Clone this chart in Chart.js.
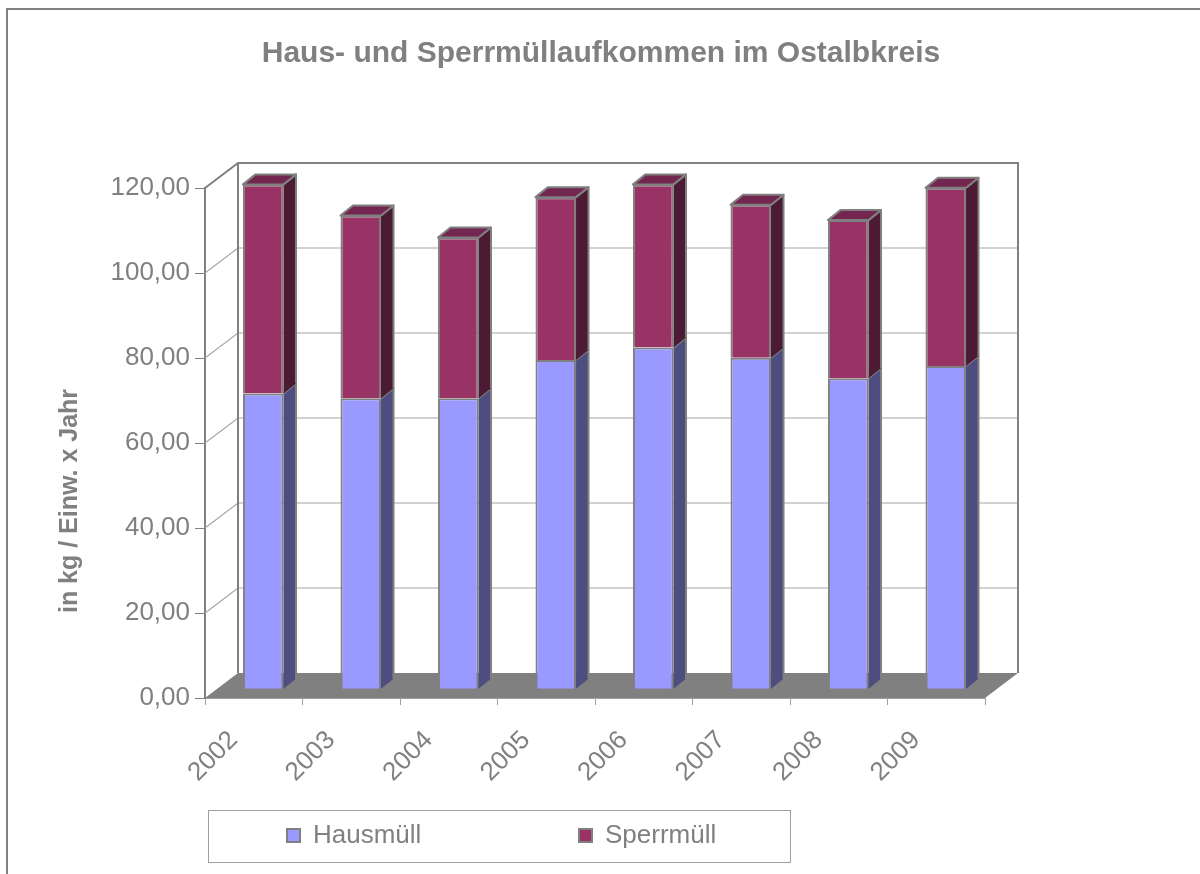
<!DOCTYPE html>
<html lang="de">
<head>
<meta charset="UTF-8">
<title>Haus- und Sperrmüllaufkommen im Ostalbkreis</title>
<script src="https://cdn.jsdelivr.net/npm/chart.js"></script>
<style>
    html, body { margin: 0; padding: 0; background: #fff; }
</style>
</head>
<body>
<canvas id="muellChart" width="1200" height="874"></canvas>

<script>
    // Daten (kg je Einwohner und Jahr)
    const jahre = ['2002', '2003', '2004', '2005', '2006', '2007', '2008', '2009'];
    const hausmuell = [69.6, 68.5, 68.5, 77.5, 80.4, 78.0, 73.2, 76.1];
    const sperrmuell = [49.2, 43.0, 37.8, 38.3, 38.4, 36.0, 37.2, 41.9];
    const yTicks = [0, 20, 40, 60, 80, 100, 120];

    const titel = 'Haus- und Sperrmüllaufkommen im Ostalbkreis';
    const yTitel = 'in kg / Einw. x Jahr';

    const GRAU = '#808080';
    const FONT = '"Liberation Sans", Arial, sans-serif';

    // 3D look: wall depth and bar depth
    const WAND_DX = 33, WAND_DY = -25;
    const BAR_SHIFT_X = 9.5, BAR_SHIFT_Y = -8.7;
    const BAR_DX = 12.5, BAR_DY = -10;

    const seitenFarben = ['#4D4D80', '#4D1A33'];
    const deckelFarbe = '#732650';

    const raum3d = {
        id: 'raum3d',
        beforeDatasetsDraw(chart) {
            const { ctx, chartArea: a, scales: { y } } = chart;
            ctx.save();

            // Boden
            ctx.fillStyle = GRAU;
            ctx.beginPath();
            ctx.moveTo(a.left, a.bottom);
            ctx.lineTo(a.right, a.bottom);
            ctx.lineTo(a.right + WAND_DX, a.bottom + WAND_DY);
            ctx.lineTo(a.left + WAND_DX, a.bottom + WAND_DY);
            ctx.closePath();
            ctx.fill();

            // Gitterlinien auf Seiten- und Rückwand
            ctx.strokeStyle = '#A6A6A6';
            ctx.lineWidth = 1.2;
            yTicks.slice(1, -1).forEach(v => {
                const py = y.getPixelForValue(v);
                ctx.beginPath();
                ctx.moveTo(a.left, py);
                ctx.lineTo(a.left + WAND_DX, py + WAND_DY);
                ctx.lineTo(a.right + WAND_DX, py + WAND_DY);
                ctx.stroke();
            });

            // Rahmen der Rückwand
            const top = y.getPixelForValue(yTicks[yTicks.length - 1]);
            ctx.strokeStyle = GRAU;
            ctx.lineWidth = 2;
            ctx.beginPath();
            ctx.moveTo(a.left, top);
            ctx.lineTo(a.left + WAND_DX, top + WAND_DY);
            ctx.lineTo(a.right + WAND_DX, top + WAND_DY);
            ctx.lineTo(a.right + WAND_DX, a.bottom + WAND_DY);
            ctx.moveTo(a.left + WAND_DX, top + WAND_DY);
            ctx.lineTo(a.left + WAND_DX, a.bottom + WAND_DY);
            ctx.stroke();
            ctx.restore();

            // Säulen etwas nach hinten versetzen
            ctx.save();
            ctx.translate(BAR_SHIFT_X, BAR_SHIFT_Y);
        },
        afterDatasetsDraw(chart) {
            const ctx = chart.ctx;
            const last = chart.data.datasets.length - 1;
            chart.data.datasets.forEach((ds, i) => {
                chart.getDatasetMeta(i).data.forEach(bar => {
                    const { x, y, base, width } = bar.getProps(['x', 'y', 'base', 'width'], true);
                    const l = x - width / 2, r = x + width / 2;
                    ctx.strokeStyle = GRAU;
                    ctx.lineWidth = 2;
                    ctx.lineJoin = 'round';

                    ctx.fillStyle = seitenFarben[i];
                    ctx.beginPath();
                    ctx.moveTo(r, y);
                    ctx.lineTo(r + BAR_DX, y + BAR_DY);
                    ctx.lineTo(r + BAR_DX, base + BAR_DY);
                    ctx.lineTo(r, base);
                    ctx.closePath();
                    ctx.fill();
                    ctx.beginPath();
                    ctx.moveTo(r, y);
                    ctx.lineTo(r + BAR_DX, y + BAR_DY);
                    ctx.lineTo(r + BAR_DX, base + BAR_DY);
                    ctx.stroke();

                    if (i === last) {
                        ctx.fillStyle = deckelFarbe;
                        ctx.beginPath();
                        ctx.moveTo(l, y);
                        ctx.lineTo(l + BAR_DX, y + BAR_DY);
                        ctx.lineTo(r + BAR_DX, y + BAR_DY);
                        ctx.lineTo(r, y);
                        ctx.closePath();
                        ctx.fill();
                        ctx.stroke();
                    }
                });
            });
            ctx.restore();
        },
        afterDraw(chart) {
            const { ctx } = chart;
            ctx.save();

            // äußerer Rahmen
            ctx.strokeStyle = GRAU;
            ctx.lineWidth = 2;
            ctx.beginPath();
            ctx.moveTo(7, 874);
            ctx.lineTo(7, 9);
            ctx.lineTo(1200, 9);
            ctx.stroke();

            ctx.fillStyle = GRAU;
            ctx.font = 'bold 30px ' + FONT;
            ctx.textAlign = 'center';
            ctx.textBaseline = 'alphabetic';
            ctx.fillText(titel, 601, 62);

            ctx.save();
            ctx.translate(70, 501);
            ctx.rotate(-Math.PI / 2);
            ctx.font = 'bold 25px ' + FONT;
            ctx.textBaseline = 'middle';
            ctx.fillText(yTitel, 0, 0);
            ctx.restore();

            // Legende
            ctx.strokeStyle = '#A0A0A0';
            ctx.lineWidth = 1;
            ctx.strokeRect(208.5, 810.5, 582, 52);
            const posX = [287, 579];
            ctx.font = '26px ' + FONT;
            ctx.textAlign = 'left';
            ctx.textBaseline = 'middle';
            chart.data.datasets.forEach((ds, i) => {
                ctx.fillStyle = ds.backgroundColor;
                ctx.fillRect(posX[i], 829, 13, 13);
                ctx.strokeStyle = GRAU;
                ctx.lineWidth = 2;
                ctx.strokeRect(posX[i], 829, 13, 13);
                ctx.fillStyle = GRAU;
                ctx.fillText(ds.label, posX[i] + 26, 836);
            });
            ctx.restore();
        }
    };

    const chartElem = document.getElementById('muellChart').getContext('2d');
    new Chart(chartElem, {
        type: 'bar',
        data: {
            labels: jahre,
            datasets: [{
                label: 'Hausmüll',
                data: hausmuell,
                backgroundColor: '#9999FF',
                borderColor: GRAU,
                borderWidth: 2,
                clip: false
            }, {
                label: 'Sperrmüll',
                data: sperrmuell,
                backgroundColor: '#993366',
                borderColor: GRAU,
                borderWidth: 2,
                clip: false
            }]
        },
        options: {
            responsive: false,
            animation: false,
            devicePixelRatio: 1,
            barPercentage: 0.416,
            categoryPercentage: 1,
            layout: { padding: { left: 0, top: 188, right: 215, bottom: 0 } },
            plugins: {
                legend: { display: false },
                title: { display: false },
                tooltip: { enabled: false }
            },
            scales: {
                x: {
                    stacked: true,
                    grid: { display: true, drawOnChartArea: false, tickLength: 7, color: '#A0A0A0', offset: true },
                    border: { display: true, color: '#A0A0A0' },
                    ticks: {
                        autoSkip: false,
                        minRotation: 45,
                        maxRotation: 45,
                        labelOffset: -20,
                        padding: 20,
                        color: GRAU,
                        font: { family: FONT, size: 26 }
                    },
                    afterFit: s => { s.height = 176; }
                },
                y: {
                    stacked: true,
                    min: 0,
                    max: 120,
                    grid: { display: true, drawOnChartArea: false, tickLength: 10, color: GRAU },
                    border: { display: true, color: GRAU, width: 2 },
                    ticks: {
                        stepSize: 20,
                        padding: 5,
                        color: GRAU,
                        font: { family: FONT, size: 26 },
                        callback: v => v.toFixed(2).replace('.', ',')
                    },
                    afterFit: s => { s.width = 205; }
                }
            }
        },
        plugins: [raum3d]
    });
</script>
</body>
</html>
